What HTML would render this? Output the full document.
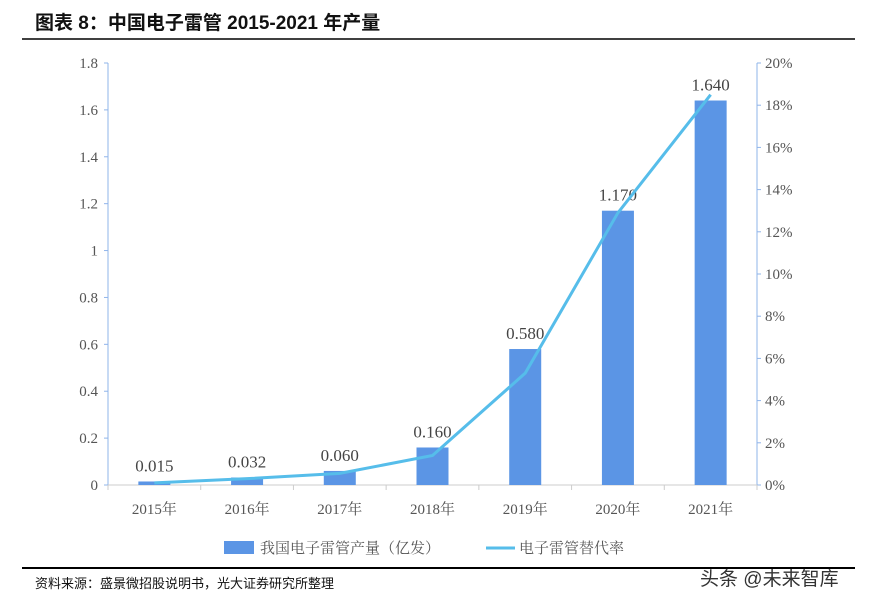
<!DOCTYPE html>
<html><head><meta charset="utf-8"><style>
body{margin:0;background:#fff;width:884px;height:608px;overflow:hidden;font-family:"Liberation Serif","Noto Serif CJK SC",serif;}
</style></head><body>
<svg id="c" width="884" height="608" xmlns="http://www.w3.org/2000/svg">
<text x="35" y="29" font-family="Liberation Sans,Noto Sans CJK SC,sans-serif" font-weight="bold" font-size="19" fill="#111">图表 8：中国电子雷管 2015-2021 年产量</text>
<line x1="22" y1="39" x2="855" y2="39" stroke="#000" stroke-width="1.5"/>
<line x1="22" y1="568" x2="855" y2="568" stroke="#000" stroke-width="2"/>
<text x="35" y="588" font-family="Liberation Sans,Noto Sans CJK SC,sans-serif" font-size="13" fill="#111">资料来源：盛景微招股说明书，光大证券研究所整理</text>
<text x="700" y="585" font-family="Liberation Sans,Noto Sans CJK SC,sans-serif" font-size="19" fill="#333">头条 @未来智库</text>
<g id="g"></g>
</svg>
<script>
const categories=["2015年","2016年","2017年","2018年","2019年","2020年","2021年"];
const production=[0.015,0.032,0.060,0.160,0.580,1.170,1.640];
const rate=[0.1,0.3,0.55,1.4,5.3,12.9,18.5];
const leftTicks=[0,0.2,0.4,0.6,0.8,1,1.2,1.4,1.6,1.8];
const rightTicks=[0,2,4,6,8,10,12,14,16,18,20];
const X0=108,X1=757,Y0=485,Y1=63;
const g=document.getElementById('g');const NS="http://www.w3.org/2000/svg";
function el(t,a,p){const e=document.createElementNS(NS,t);for(const k in a)e.setAttribute(k,a[k]);(p||g).appendChild(e);return e;}
const bw=(X1-X0)/categories.length;
const xc=i=>X0+bw*(i+0.5);
const yl=v=>Y0-(v/1.8)*(Y0-Y1);
const yr=v=>Y0-(v/20)*(Y0-Y1);
let a=el('line',{x1:X0,y1:Y1,x2:X0,y2:Y0,stroke:'#8fb4ea'});

a=el('line',{x1:X1,y1:Y1,x2:X1,y2:Y0,stroke:'#8fb4ea'});

a=el('line',{x1:X0,y1:Y0,x2:X1,y2:Y0,stroke:'#ccc'});

leftTicks.forEach(v=>{el('line',{x1:X0-4,y1:yl(v),x2:X0,y2:yl(v),stroke:'#8fb4ea'});
const t=el('text',{x:X0-10,y:yl(v)+5,'text-anchor':'end','font-size':15,fill:'#555'});t.textContent=v;
});
rightTicks.forEach(v=>{el('line',{x1:X1,y1:yr(v),x2:X1+4,y2:yr(v),stroke:'#8fb4ea'});
const t=el('text',{x:X1+8,y:yr(v)+5,'font-size':15,fill:'#555'});t.textContent=v+'%';
});
for(let i=0;i<=categories.length;i++)el('line',{x1:X0+bw*i,y1:Y0,x2:X0+bw*i,y2:Y0+5,stroke:'#ccc'});
categories.forEach((c,i)=>{
const b=el('rect',{x:xc(i)-16,y:yl(production[i]),width:32,height:Y0-yl(production[i]),fill:'#5b95e5'});

const l=el('text',{x:xc(i),y:yl(production[i])-10,'text-anchor':'middle','font-size':17,fill:'#444'});l.textContent=production[i].toFixed(3);

const t=el('text',{x:xc(i),y:Y0+29,'text-anchor':'middle','font-size':15,fill:'#555'});t.textContent=c;
});
const ln=el('polyline',{points:rate.map((v,i)=>xc(i)+','+yr(v)).join(' '),fill:'none',stroke:'#56bdea','stroke-width':3});

const lg=el('g',{});
el('rect',{x:224,y:541,width:30,height:13,fill:'#5b95e5'},lg);
let t=el('text',{x:260,y:553,'font-size':15,fill:'#555','font-family':'Noto Serif CJK SC,serif'},lg);t.textContent='我国电子雷管产量（亿发）';
el('line',{x1:486,y1:548,x2:515,y2:548,stroke:'#56bdea','stroke-width':3},lg);
t=el('text',{x:519,y:553,'font-size':15,fill:'#555','font-family':'Noto Serif CJK SC,serif'},lg);t.textContent='电子雷管替代率';
</script>
</body></html>
